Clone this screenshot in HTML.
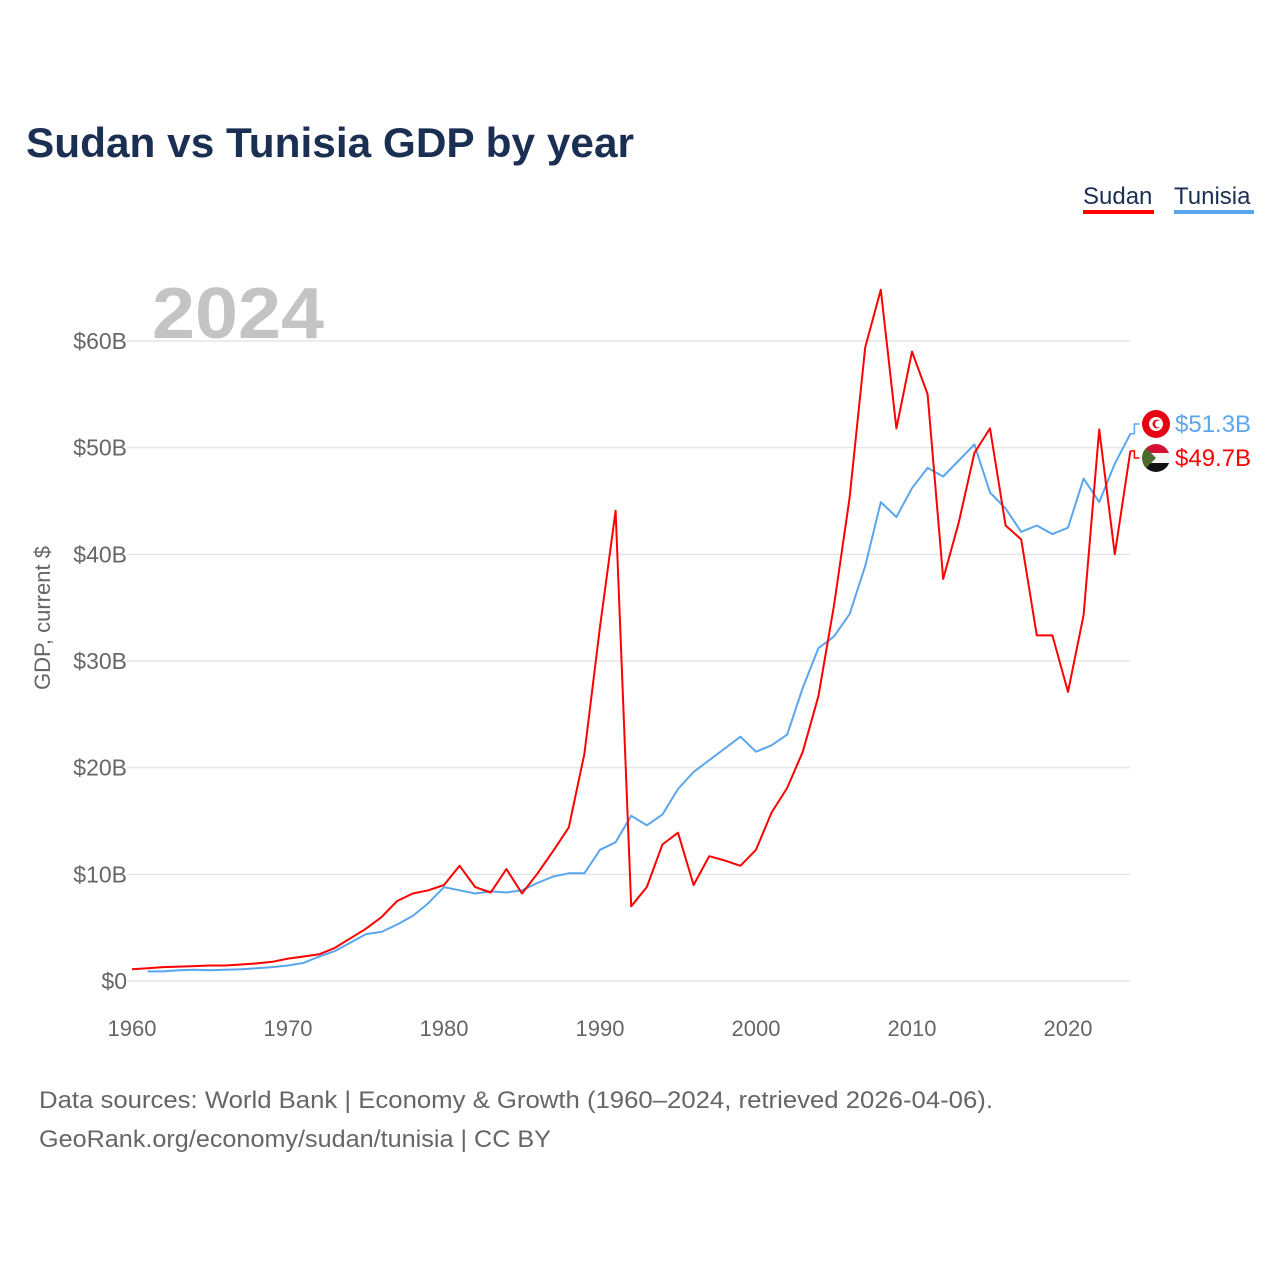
<!DOCTYPE html>
<html><head><meta charset="utf-8"><style>
html,body{margin:0;padding:0;background:#fff;}
body{width:1280px;height:1280px;position:relative;overflow:hidden;font-family:"Liberation Sans",sans-serif;}
</style></head><body>
<svg id="chart" width="1280" height="1280" xmlns="http://www.w3.org/2000/svg">
<text x="26" y="157" font-size="42" font-weight="bold" fill="#1b2f52" textLength="608" lengthAdjust="spacingAndGlyphs">Sudan vs Tunisia GDP by year</text>
<g>
<text x="1083" y="204" font-size="24" fill="#1b2f52">Sudan</text>
<rect x="1083" y="210" width="71" height="4" fill="#ff0000"/>
<text x="1174" y="204" font-size="24" fill="#1b2f52">Tunisia</text>
<rect x="1174" y="210" width="80" height="4" fill="#5aa6ee"/>
</g>
<text x="152" y="338" font-size="72" font-weight="bold" fill="#c4c4c4" textLength="172" lengthAdjust="spacingAndGlyphs">2024</text>
<g id="grid"></g><g id="series"></g><g id="ends"></g>
<text transform="translate(50,618) rotate(-90)" text-anchor="middle" font-size="22" fill="#666">GDP, current $</text>
<text x="39" y="1108" font-size="24" fill="#666" textLength="954" lengthAdjust="spacingAndGlyphs">Data sources: World Bank | Economy &amp; Growth (1960–2024, retrieved 2026-04-06).</text>
<text x="39" y="1147" font-size="24" fill="#666" textLength="512" lengthAdjust="spacingAndGlyphs">GeoRank.org/economy/sudan/tunisia | CC BY</text>
</svg>
<script>
const years = [];for(let y=1960;y<=2024;y++)years.push(y);
const sudan = [1.1,1.2,1.3,1.35,1.4,1.45,1.45,1.55,1.65,1.8,2.1,2.3,2.5,3.1,4.0,4.9,6.0,7.5,8.2,8.5,9.0,10.8,8.8,8.3,10.5,8.2,10.1,12.2,14.4,21.3,33.2,44.1,7.0,8.8,12.8,13.9,9.0,11.7,11.3,10.8,12.3,15.8,18.1,21.5,26.7,35.2,45.3,59.4,64.8,51.8,59.0,55.0,37.7,43.0,49.5,51.8,42.7,41.4,32.4,32.4,27.1,34.3,51.7,40.0,49.7];
const tunisia = [null,0.9,0.9,1.0,1.05,1.0,1.05,1.1,1.2,1.3,1.45,1.7,2.3,2.8,3.6,4.4,4.6,5.3,6.1,7.3,8.8,8.5,8.2,8.4,8.3,8.5,9.2,9.8,10.1,10.1,12.3,13.0,15.5,14.6,15.6,18.0,19.6,20.7,21.8,22.9,21.5,22.1,23.1,27.5,31.2,32.3,34.4,38.9,44.9,43.5,46.2,48.1,47.3,48.8,50.3,45.8,44.3,42.1,42.7,41.9,42.5,47.1,44.9,48.5,51.3];
const yTicks = [0,10,20,30,40,50,60];
const xTicks = [1960,1970,1980,1990,2000,2010,2020];
const NS="http://www.w3.org/2000/svg";
const X=y=>132+(y-1960)*15.6, Y=v=>981-v*10.667;
function mk(t,a,p){const e=document.createElementNS(NS,t);for(const k in a)e.setAttribute(k,a[k]);p.appendChild(e);return e;}
const grid=document.getElementById('grid');
yTicks.forEach(v=>{
 const l=mk('line',{x1:127,x2:1130,y1:Y(v),y2:Y(v),stroke:'#e6e6e6','stroke-width':1.5},grid);
 
 
 const t=mk('text',{x:127,y:Y(v)+8,'text-anchor':'end','font-size':23,fill:'#666'},grid);
 t.textContent='$'+v+(v===0?'':'B');
 
 
});
xTicks.forEach(v=>{
 const t=mk('text',{x:X(v),y:1036,'text-anchor':'middle','font-size':22,fill:'#666'},grid);
 t.textContent=v;
 
 
});
const ser=document.getElementById('series');
function line(vals,color,name){
 let d='';vals.forEach((v,i)=>{if(v==null)return;d+=(d?'L':'M')+X(years[i]).toFixed(1)+','+Y(v).toFixed(1);});
 const p=mk('path',{d:d,fill:'none',stroke:color,'stroke-width':2,'stroke-linejoin':'round'},ser);
 
 
}
line(tunisia,'#5aa6ee','tunisia-line');
line(sudan,'#ff0000','sudan-line');
const ends=document.getElementById('ends');
function endLabel(v,ly,color,name,flag){
 const x0=X(2024);
 const c=mk('path',{d:`M${x0},${Y(v)}H${x0+4}V${ly}H${x0+9}`,fill:'none',stroke:color,'stroke-width':1.5},ends);
 
 
 const g=mk('g',{},ends);
 
 
 flag(g,1156,ly);
 const t=mk('text',{x:1175,y:ly+8,'font-size':24,fill:color},ends);
 t.textContent='$'+v.toFixed(1)+'B';
 
 
}
endLabel(tunisia[tunisia.length-1],424,'#5aa6ee','tunisia',(g,cx,cy)=>{
 mk('circle',{cx:cx,cy:cy,r:14,fill:'#e70013'},g);
 mk('circle',{cx:cx,cy:cy,r:7,fill:'#fff'},g);
 mk('circle',{cx:cx+1,cy:cy,r:4.5,fill:'#e70013'},g);
 mk('circle',{cx:cx+2.5,cy:cy,r:3.5,fill:'#fff'},g);
});
endLabel(sudan[sudan.length-1],458,'#ff0000','sudan',(g,cx,cy)=>{
 const cp=mk('clipPath',{id:'sdc'},g);mk('circle',{cx:cx,cy:cy,r:14},cp);
 const gg=mk('g',{'clip-path':'url(#sdc)'},g);
 mk('rect',{x:cx-14,y:cy-14,width:28,height:10,fill:'#d21034'},gg);
 mk('rect',{x:cx-14,y:cy-5,width:28,height:10,fill:'#f4f4f4'},gg);
 mk('rect',{x:cx-14,y:cy+5,width:28,height:10,fill:'#111'},gg);
 mk('path',{d:`M${cx-14},${cy-14}L${cx},${cy}L${cx-14},${cy+14}Z`,fill:'#4a6b2a'},gg);
});
</script>
</body></html>
